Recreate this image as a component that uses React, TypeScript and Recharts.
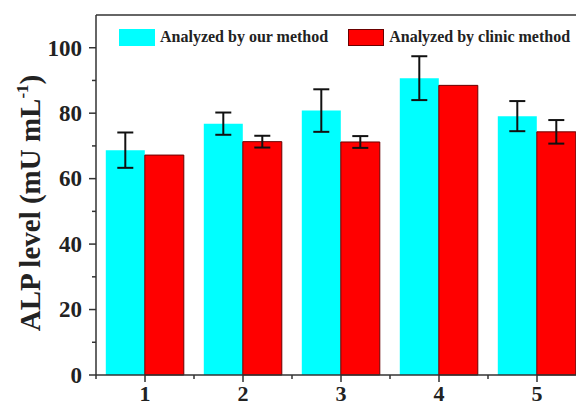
import React from 'react';
import { BarChart, Bar, XAxis, YAxis, ErrorBar, ReferenceLine, Legend } from 'recharts';

const categories = ['1', '2', '3', '4', '5'];
const ourMethod = [68.7, 76.8, 80.8, 90.7, 79.1];
const ourErr = [5.4, 3.4, 6.5, 6.7, 4.6];
const clinicMethod = [67.2, 71.3, 71.2, 88.5, 74.3];
const clinicErr: (number | null)[] = [null, 1.8, 1.8, null, 3.6];
const seriesNames = ['Analyzed by our method', 'Analyzed by clinic method'];
const seriesColors = ['#00FFFF', '#FF0000'];
const yTicks = [0, 10, 20, 30, 40, 50, 60, 70, 80, 90, 100];
const yMajor = [0, 20, 40, 60, 80, 100];
const yMax = 110;

const data = categories.map((c, i) => ({
  cat: c,
  our: ourMethod[i],
  ourErr: ourErr[i],
  clinic: clinicMethod[i],
  clinicErr: clinicErr[i],
}));

const CHART_W = 600;
const CHART_H = 406;
const MARGIN = { top: 15, right: 14, left: 0, bottom: 0 };
const Y_W = 96;
const X_H = 31;
const FONT = '"Liberation Serif", "Times New Roman", serif';
const AXIS = '#333';
const halfBand = (CHART_W - MARGIN.right - MARGIN.left - Y_W) / categories.length / 2;

const YTick = (props: any) => {
  const { x, y, payload } = props;
  const major = yMajor.includes(payload.value);
  return (
    <g>
      <line x1={x} x2={x - (major ? 7 : 4)} y1={y} y2={y} stroke={AXIS} strokeWidth={1.5} />
      {major && (
        <text x={x - 14} y={y} dy="0.34em" textAnchor="end" fontFamily={FONT} fontWeight="bold" fontSize={23} fill="#222">
          {payload.value}
        </text>
      )}
    </g>
  );
};

const XTick = (props: any) => {
  const { x, y, payload, index } = props;
  return (
    <g>
      <line x1={x} x2={x} y1={y} y2={y + 7} stroke={AXIS} strokeWidth={1.5} />
      <line x1={x - halfBand} x2={x - halfBand} y1={y} y2={y + 4} stroke={AXIS} strokeWidth={1.5} />
      {index === categories.length - 1 && (
        <line x1={x + halfBand} x2={x + halfBand} y1={y} y2={y + 4} stroke={AXIS} strokeWidth={1.5} />
      )}
      <text x={x} y={y + 26} textAnchor="middle" fontFamily={FONT} fontWeight="bold" fontSize={22} fill="#222">
        {payload.value}
      </text>
    </g>
  );
};

const YLabel = (props: any) => {
  const vb = props.viewBox || {};
  const cx = 40;
  const cy = (vb.y ?? 15) + (vb.height ?? 360) / 2 + 8;
  return (
    <text
      x={cx}
      y={cy}
      transform={`rotate(-90, ${cx}, ${cy})`}
      textAnchor="middle"
      fontFamily={FONT}
      fontWeight="bold"
      fontSize={29}
      fill="#222"
    >
      ALP level (mU mL
      <tspan dy={-12} fontSize={17}>-1</tspan>
      <tspan dy={12}>)</tspan>
    </text>
  );
};

const LegendContent = () => (
  <div style={{ display: 'flex', alignItems: 'center', fontFamily: FONT, fontWeight: 'bold', fontSize: 16, color: '#222' }}>
    {seriesNames.map((n, i) => (
      <div key={n} style={{ display: 'flex', alignItems: 'center', marginRight: 20 }}>
        <div
          style={{
            width: 36,
            height: 17,
            background: seriesColors[i],
            boxSizing: 'border-box',
            border: i === 1 ? '1px solid #6a0000' : 'none',
            marginRight: 5,
          }}
        />
        <span style={{ whiteSpace: 'nowrap' }}>{n}</span>
      </div>
    ))}
  </div>
);

export default function App() {
  return (
    <div style={{ position: 'absolute', left: 0, top: 0, width: 576, height: 406, overflow: 'hidden', background: '#fff' }}>
      <BarChart width={CHART_W} height={CHART_H} data={data} margin={MARGIN} barCategoryGap="10%" barGap={0}>
        <XAxis
          dataKey="cat"
          height={X_H}
          tickSize={0}
          tickMargin={0}
          tick={<XTick />}
          axisLine={{ stroke: AXIS, strokeWidth: 1.5 }}
          tickLine={false}
          interval={0}
        />
        <YAxis
          width={Y_W}
          domain={[0, yMax]}
          ticks={yTicks}
          tickSize={0}
          tickMargin={0}
          tick={<YTick />}
          axisLine={{ stroke: AXIS, strokeWidth: 1.5 }}
          tickLine={false}
          interval={0}
          label={{ content: <YLabel /> }}
        />
        <ReferenceLine y={yMax} stroke={AXIS} strokeWidth={1.5} ifOverflow="visible" />
        <Legend
          verticalAlign="middle"
          align="center"
          content={<LegendContent />}
          wrapperStyle={{ position: 'absolute', top: 28, left: 119, width: 480 }}
        />
        <Bar dataKey="our" name={seriesNames[0]} fill={seriesColors[0]} isAnimationActive={false}>
          <ErrorBar dataKey="ourErr" width={8} strokeWidth={2} stroke="#111" direction="y" />
        </Bar>
        <Bar dataKey="clinic" name={seriesNames[1]} fill={seriesColors[1]} stroke="#6a0000" strokeWidth={1} isAnimationActive={false}>
          <ErrorBar dataKey="clinicErr" width={8} strokeWidth={2} stroke="#111" direction="y" />
        </Bar>
      </BarChart>
    </div>
  );
}
